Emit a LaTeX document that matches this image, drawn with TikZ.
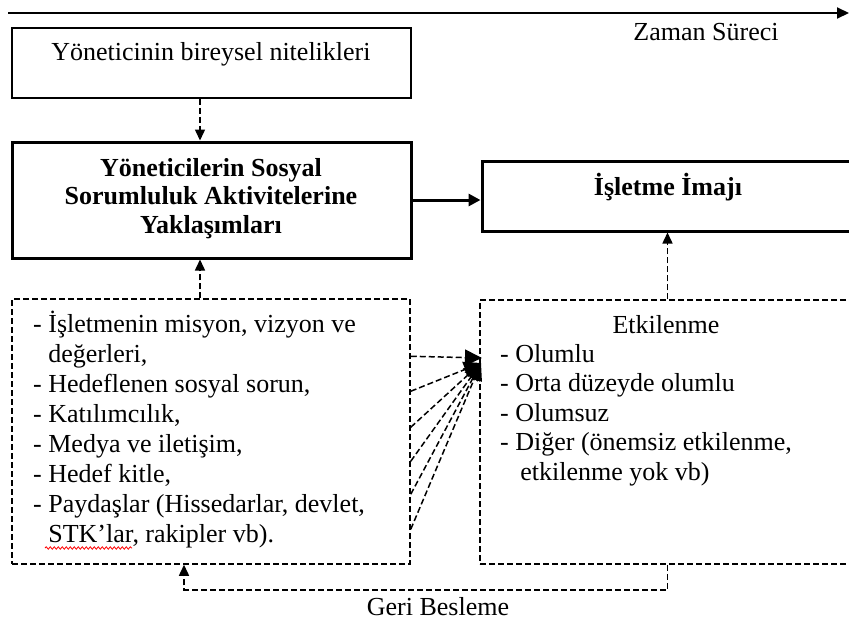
\documentclass[tikz,border=0pt]{standalone}
\usepackage{fontspec}
\setmainfont{Liberation Serif}
\usetikzlibrary{arrows.meta,calc,decorations.pathmorphing}
\tikzset{
  txt/.style={inner sep=0pt, font=\fontsize{26}{30}\selectfont},
  boldtxt/.style={inner sep=0pt, font=\fontsize{26}{28.5}\selectfont\bfseries, align=center},
  thinbox/.style={draw, line width=1.5pt, inner sep=0pt},
  thickbox/.style={draw, line width=3pt, inner sep=0pt},
  dashbox/.style={draw, line width=1.5pt, dash pattern=on 6pt off 3pt, inner sep=0pt},
  dasharrow/.style={line width=1.5pt, dash pattern=on 6pt off 3pt, -{Triangle[length=11pt,width=10pt]}},
  fanarrow/.style={line width=1.5pt, dash pattern=on 6pt off 3pt, -{Triangle[length=17pt,width=16pt]}},
  solidarrow/.style={line width=3pt, -{Triangle[length=12pt,width=12pt]}},
}
\begin{document}
\begin{tikzpicture}[x=1pt,y=-1pt]
\clip (0,0) rectangle (849,622);
\fill[white] (0,0) rectangle (849,622);

% time axis
\coordinate (tl) at (8,13);
\coordinate (tr) at (849,13);
\draw[line width=2pt, -{Triangle[length=12pt,width=11pt]}] (tl) -- (tr);
\node[txt, anchor=base] (zaman) at (706,40) {Zaman Süreci};

% boxes
\node[thinbox, minimum width=399pt, minimum height=70pt] (box1) at (211.5,63) {};
\node[thickbox, minimum width=399pt, minimum height=116pt] (box2) at (211.5,200) {};
\node[thickbox, minimum width=373pt, minimum height=70pt] (box3) at (668.5,196) {};
\node[dashbox, minimum width=398pt, minimum height=265pt] (box4) at (211,431.5) {};
\node[dashbox, minimum width=375pt, minimum height=264pt] (box5) at (667.5,432) {};

% texts (multi-line nodes: base = baseline of last line)
\node[txt, anchor=base] (t1) at (211,60) {Yöneticinin bireysel nitelikleri};
\node[boldtxt, anchor=base] (t2) at (211,233) {Yöneticilerin Sosyal\\Sorumluluk Aktivitelerine\\Yaklaşımları};
\node[boldtxt, anchor=base] (t3) at (668,195) {İşletme İmajı};
\node[txt, anchor=base west, align=left, font=\fontsize{26}{29.9}\selectfont] (t4) at (33,542)
  {- İşletmenin misyon, vizyon ve\\
   \hphantom{- }değerleri,\\
   - Hedeflenen sosyal sorun,\\
   - Katılımcılık,\\
   - Medya ve iletişim,\\
   - Hedef kitle,\\
   - Paydaşlar (Hissedarlar, devlet,\\
   \hphantom{- }STK’lar, rakipler vb).};
\node[txt, anchor=base] (t5h) at (666,333) {Etkilenme};
\node[txt, anchor=base west, align=left, font=\fontsize{26}{29.4}\selectfont] (t5) at (500,480)
  {- Olumlu\\
   - Orta düzeyde olumlu\\
   - Olumsuz\\
   - Diğer (önemsiz etkilenme,\\
   \hphantom{- }\hspace{5pt}etkilenme yok vb)};
\node[txt, anchor=base] (geri) at (438,615) {Geri Besleme};

% spell-check squiggle
\coordinate (sq1) at (45,548);
\coordinate (sq2) at (132,548);
\draw[red, line width=0.8pt, decorate, decoration={snake, amplitude=1.2pt, segment length=4pt}] (sq1) -- (sq2);

% connectors
\draw[dasharrow] ([xshift=-11.5pt]box1.south) -- ([xshift=-11.5pt]box2.north);
\draw[solidarrow] (box2.east) -- (box2.east -| box3.west);
\draw[dasharrow] ([xshift=-11pt]box4.north) -- ([xshift=-11pt]box4.north |- box2.south);
\draw[dasharrow] (box5.north) -- (box5.north |- box3.south);
\draw[dasharrow] (box5.south) -- ++(0,25) -| ([xshift=-27pt]box4.south);

% fan
\coordinate (tipH) at (482,358);
\coordinate (tipF) at (481,363);
\draw[fanarrow] ([yshift=-58pt]box4.north east) -- (tipH);
\foreach \d in {93,129,163,196,231}{
  \draw[fanarrow] ([yshift=-\d pt]box4.north east) -- (tipF);
}
\end{tikzpicture}
\end{document}
